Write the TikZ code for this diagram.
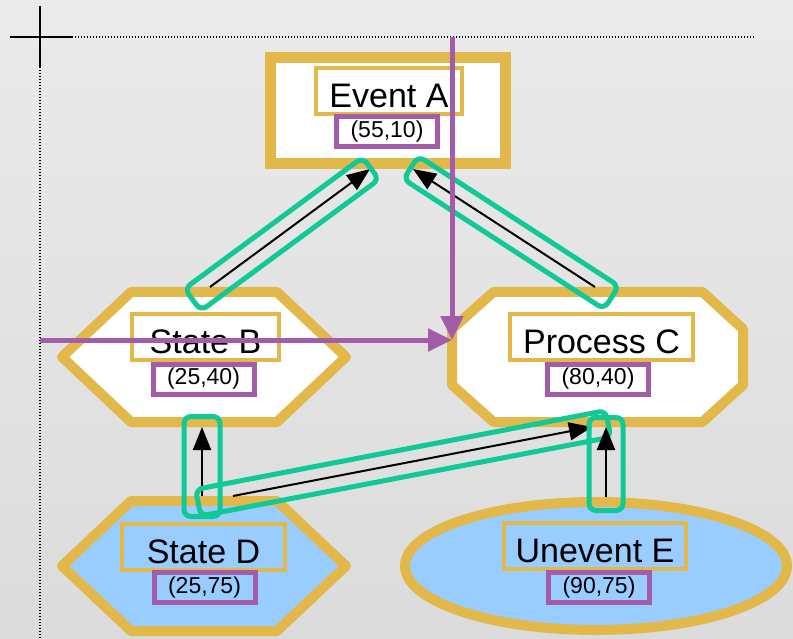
\documentclass[tikz,border=0pt]{standalone}
\usepackage{fontspec}
\setmainfont{Liberation Sans}
\usetikzlibrary{arrows.meta,calc,shapes.geometric}

\definecolor{gold}{RGB}{226,184,74}
\definecolor{guide}{RGB}{163,92,168}
\definecolor{selgreen}{RGB}{16,201,150}
\definecolor{paleblue}{RGB}{153,204,255}

\tikzset{
  shapeline/.style={draw=gold, line width=10pt, line join=round},
  hull/.style={inner sep=0pt, outer sep=5pt, minimum width=284pt, minimum height=130pt},
  namebox/.style={draw=gold, line width=4pt, inner sep=0pt, minimum height=46pt,
    text height=33pt, text depth=0pt, font=\fontsize{34}{40}\selectfont},
  coordbox/.style={draw=guide, line width=5pt, inner sep=0pt, minimum width=101pt,
    minimum height=30pt, font=\fontsize{23}{28}\selectfont},
  flow/.style={draw=black, line width=2pt, -{Triangle[length=23pt,width=18pt]}},
  selbox/.style={draw=selgreen, line width=5pt, rounded corners=7pt},
  guideline/.style={draw=guide, line width=5pt, -{Triangle[length=24pt,width=22pt]}},
  ruler/.style={line width=1.4pt, dash pattern=on 1.4pt off 1.6pt}
}

% edge with its selection frame: from, to, back, front, half width
\newcommand{\seledge}[5]{%
  \draw[flow] (#1) -- (#2);
  \draw[selbox] ($(#1)!-#3!(#2)!#5!90:(#2)$) -- ($(#1)!-#3!(#2)!#5!-90:(#2)$)
    -- ($(#2)!-#4!(#1)!#5!90:(#1)$) -- ($(#2)!-#4!(#1)!#5!-90:(#1)$) -- cycle;}

\begin{document}
\begin{tikzpicture}[x=1pt, y=-1pt]
  \useasboundingbox (0,0) rectangle (793,639);
  \shade[top color=black!8, bottom color=black!14] (0,0) rectangle (793,639);

  % rulers
  \coordinate (origin) at (40,37);
  \draw[line width=1.6pt] (10,37) -- (72,37) (40,6) -- (40,67);
  \draw[ruler] (72,37) -- (755,37);
  \draw[ruler] (40,67) -- (40,639);

  % shapes
  \node[draw=gold, line width=11pt, fill=white, inner sep=0pt,
    minimum width=235pt, minimum height=106pt] (ea) at (388,110.5) {};
  \node[hull] (sb) at (204,357) {};
  \node[hull, minimum width=291pt] (pc) at (597.5,357) {};
  \node[hull] (sd) at (204,566) {};
  \node[ellipse, draw=gold, line width=10pt, fill=paleblue, inner sep=0pt,
    minimum width=382pt, minimum height=128pt] (ue) at (596,566) {};

  \draw[shapeline, fill=white, shift={(sb.center)}]
    (-142,0) -- (-73,-65) -- (73,-65) -- (142,0) -- (73,65) -- (-73,65) -- cycle;
  \draw[shapeline, fill=white, shift={(pc.center)}]
    (-145.5,-28) -- (-104,-65) -- (105,-65) -- (145.5,-28) -- (145.5,28)
    -- (105,65) -- (-104,65) -- (-145.5,28) -- cycle;
  \draw[shapeline, fill=paleblue, shift={(sd.center)}]
    (-142,0) -- (-73,-65) -- (73,-65) -- (142,0) -- (73,65) -- (-73,65) -- cycle;

  % labels
  \node[namebox, minimum width=146pt] (ea-t) at (389,91) {Event A};
  \node[coordbox] (ea-c) at (387,131.5) {(55,10)};
  \node[namebox, minimum width=147pt] (sb-t) at (205.5,337) {State B};
  \node[coordbox] (sb-c) at (203.5,379) {(25,40)};
  \node[namebox, minimum width=183pt] (pc-t) at (601.5,337) {Process C};
  \node[coordbox] (pc-c) at (598,379) {(80,40)};
  \node[namebox, minimum width=163pt] (sd-t) at (203.5,547) {State D};
  \node[coordbox] (sd-c) at (204.5,587.5) {(25,75)};
  \node[namebox, minimum width=182pt] (ue-t) at (595,546) {Unevent E};
  \node[coordbox] (ue-c) at (599,587.5) {(90,75)};

  % edges
  \seledge{[xshift=6pt]sb.north}{[xshift=-18pt]ea.south}{21.5pt}{1pt}{13.75pt}
  \seledge{[xshift=-2.5pt]pc.north}{[xshift=25pt]ea.south}{19.5pt}{2.5pt}{13.75pt}
  \seledge{[xshift=-2pt]sd.north}{[xshift=-2pt]sb.south}{20.5pt}{10.5pt}{18pt}
  \seledge{[xshift=29pt]sd.north}{[xshift=-5.5pt]pc.south}{35.5pt}{16.5pt}{13.5pt}
  \seledge{[xshift=10pt]ue.north}{[xshift=8.5pt]pc.south}{13.5pt}{9.5pt}{17pt}

  % position guides
  \coordinate (cpin) at ([xshift=5pt,yshift=17pt]pc.west);
  \draw[guideline] (cpin |- origin) -- (cpin);
  \draw[guideline] (origin |- cpin) -- (cpin);
\end{tikzpicture}
\end{document}
